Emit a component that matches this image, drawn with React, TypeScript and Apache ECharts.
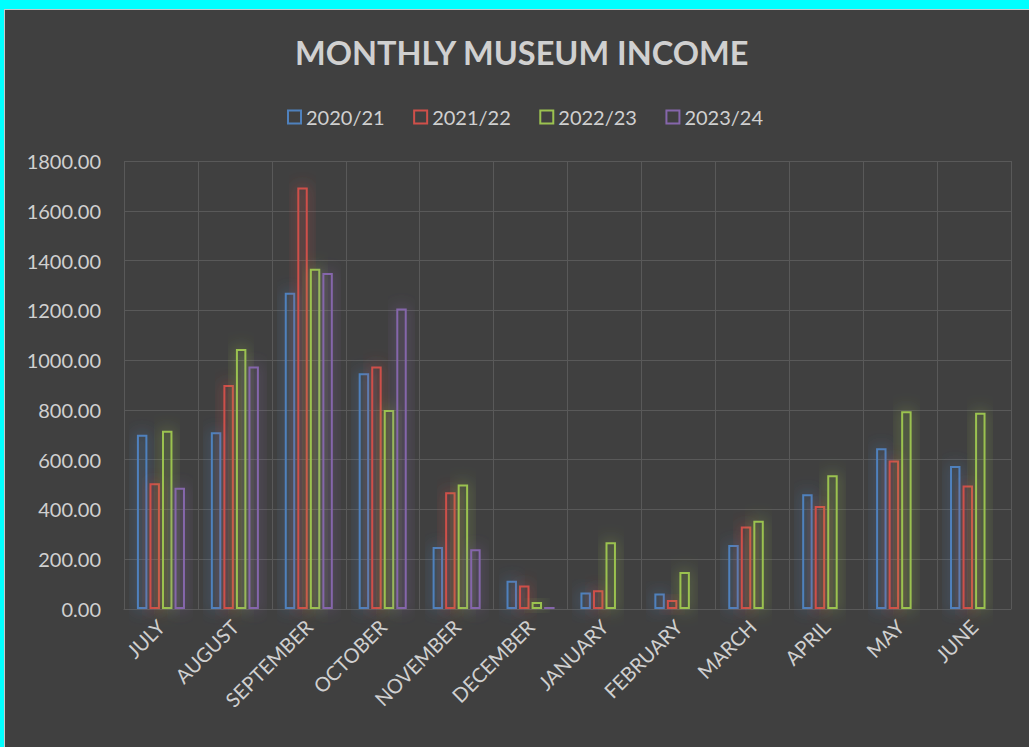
import React, { useEffect, useRef } from "react";
import * as echarts from "echarts";

const months = ["JULY", "AUGUST", "SEPTEMBER", "OCTOBER", "NOVEMBER", "DECEMBER", "JANUARY", "FEBRUARY", "MARCH", "APRIL", "MAY", "JUNE"];
const seriesNames = ["2020/21", "2021/22", "2022/23", "2023/24"];
const y2020 = [700, 710, 1271, 947, 249, 114, 66, 62, 257, 461, 646, 575];
const y2021 = [505, 900, 1694, 974, 469, 94, 75, 36, 331, 414, 597, 496];
const y2022 = [716, 1045, 1367, 800, 500, 28, 268, 149, 355, 537, 795, 789];
const y2023 = [487, 974, 1350, 1207, 240, 9, null, null, null, null, null, null];
const colors = ["#4f81bd", "#cf504a", "#9bc250", "#8566ab"];

const TEXT = "#d0d0d0";
const GRIDC = "#595959";
const FONT = "Lato, 'Open Sans', sans-serif";

export default function App() {
  const ref = useRef<HTMLDivElement>(null);
  useEffect(() => {
    if (!ref.current) return;
    const chart = echarts.init(ref.current, null, { renderer: "svg" });
    const datasets = [y2020, y2021, y2022, y2023];
    chart.setOption({
      animation: false,
      backgroundColor: "transparent",
      textStyle: { fontFamily: FONT },
      title: {
        text: "MONTHLY MUSEUM INCOME",
        left: 290,
        top: 31,
        textStyle: { color: TEXT, fontSize: 32.5, fontWeight: "bold", fontFamily: FONT },
      },
      legend: {
        top: 102,
        left: 282,
        icon: "rect",
        itemWidth: 13,
        itemHeight: 13,
        itemGap: 28.5,
        textStyle: { color: TEXT, fontSize: 20, fontFamily: FONT },
        itemStyle: { shadowBlur: 0, borderWidth: 2 },
        data: seriesNames.map((n, i) => ({
          name: n,
          itemStyle: { color: "transparent", borderColor: colors[i], borderWidth: 2, shadowBlur: 0 },
        })),
      },
      grid: { left: 124, right: 18, top: 161, bottom: 138, containLabel: false },
      xAxis: {
        type: "category",
        data: months,
        boundaryGap: true,
        axisLine: { show: true, lineStyle: { color: GRIDC, width: 1 } },
        axisTick: { show: false },
        splitLine: { show: true, lineStyle: { color: GRIDC, width: 1 } },
        axisLabel: { color: TEXT, fontSize: 20, rotate: 45, margin: 14, fontFamily: FONT, interval: 0 },
      },
      yAxis: {
        type: "value",
        min: 0,
        max: 1800,
        interval: 200,
        axisLine: { show: false },
        axisTick: { show: false },
        splitLine: { show: true, lineStyle: { color: GRIDC, width: 1 } },
        axisLabel: {
          color: TEXT,
          fontSize: 20,
          margin: 23,
          fontFamily: FONT,
          formatter: (v: number) => v.toFixed(2),
        },
      },
      series: datasets.map((d, i) => ({
        name: seriesNames[i],
        type: "bar",
        data: d,
        barCategoryGap: "35%",
        barGap: "20%",
        itemStyle: {
          color: "rgba(0,0,0,0)",
          borderColor: colors[i],
          borderWidth: 2,
          shadowBlur: 16,
          shadowColor: colors[i],
        },
      })),
    });
    return () => chart.dispose();
  }, []);

  return (
    <div style={{ position: "fixed", left: 0, top: 0, width: 1029, height: 747, background: "#00ffff", overflow: "hidden" }}>
      <div
        style={{
          position: "absolute",
          left: 4,
          top: 9,
          width: 1025,
          height: 738,
          background: "#404040",
          borderTop: "1px solid #c8c8c8",
          borderLeft: "1px solid #c8c8c8",
          boxSizing: "border-box",
        }}
      />
      <div ref={ref} style={{ position: "absolute", left: 0, top: 0, width: 1029, height: 747 }} />
    </div>
  );
}
